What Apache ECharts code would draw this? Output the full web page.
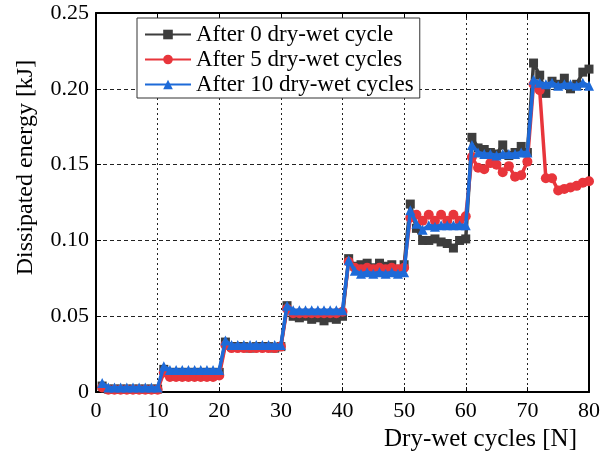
<!DOCTYPE html>
<html>
<head>
<meta charset="utf-8">
<script src="https://cdn.jsdelivr.net/npm/echarts@6/dist/echarts.min.js"></script>
<style>
  html, body { margin: 0; padding: 0; background: #fff; }
  #chart { width: 603px; height: 457px; }
</style>
</head>
<body>
<div id="chart"></div>
<script>
// Loading cycle number for each measurement
const cycles = [
  1, 2, 3, 4, 5, 6, 7, 8, 9, 10,
  11, 12, 13, 14, 15, 16, 17, 18, 19, 20,
  21, 22, 23, 24, 25, 26, 27, 28, 29, 30,
  31, 32, 33, 34, 35, 36, 37, 38, 39, 40,
  41, 42, 43, 44, 45, 46, 47, 48, 49, 50,
  51, 52, 53, 54, 55, 56, 57, 58, 59, 60,
  61, 62, 63, 64, 65, 66, 67, 68, 69, 70,
  71, 72, 73, 74, 75, 76, 77, 78, 79, 80
];

// Dissipated energy [kJ] per cycle
const after0 = [
  0.004, 0.002, 0.002, 0.002, 0.002, 0.002, 0.002, 0.002, 0.002, 0.002,
  0.015, 0.013, 0.013, 0.013, 0.013, 0.013, 0.013, 0.013, 0.013, 0.013,
  0.033, 0.030, 0.030, 0.030, 0.029, 0.030, 0.030, 0.030, 0.029, 0.030,
  0.057, 0.050, 0.049, 0.050, 0.048, 0.049, 0.047, 0.049, 0.048, 0.050,
  0.088, 0.083, 0.084, 0.085, 0.082, 0.085, 0.083, 0.084, 0.081, 0.084,
  0.124, 0.108, 0.100, 0.100, 0.101, 0.099, 0.098, 0.095, 0.100, 0.101,
  0.168, 0.161, 0.160, 0.158, 0.157, 0.163, 0.156, 0.158, 0.162, 0.158,
  0.217, 0.209, 0.197, 0.205, 0.203, 0.207, 0.200, 0.203, 0.211, 0.213
];
const after5 = [
  0.003, 0.0015, 0.0015, 0.0015, 0.0015, 0.0015, 0.0015, 0.0015, 0.0015, 0.0015,
  0.013, 0.010, 0.010, 0.010, 0.010, 0.010, 0.010, 0.010, 0.010, 0.011,
  0.031, 0.029, 0.029, 0.029, 0.029, 0.029, 0.029, 0.029, 0.029, 0.030,
  0.055, 0.052, 0.052, 0.052, 0.052, 0.052, 0.052, 0.052, 0.052, 0.053,
  0.086, 0.082, 0.081, 0.082, 0.081, 0.082, 0.081, 0.082, 0.081, 0.082,
  0.115, 0.117, 0.113, 0.117, 0.113, 0.117, 0.113, 0.117, 0.113, 0.116,
  0.155, 0.148, 0.147, 0.151, 0.150, 0.145, 0.149, 0.142, 0.143, 0.152,
  0.203, 0.199, 0.141, 0.141, 0.133, 0.134, 0.135, 0.136, 0.138, 0.139
];
const after10 = [
  0.006, 0.003, 0.003, 0.003, 0.003, 0.003, 0.003, 0.003, 0.003, 0.003,
  0.017, 0.0145, 0.0145, 0.0145, 0.0145, 0.0145, 0.0145, 0.0145, 0.0145, 0.0145,
  0.034, 0.031, 0.031, 0.031, 0.031, 0.031, 0.031, 0.031, 0.031, 0.031,
  0.057, 0.054, 0.054, 0.054, 0.054, 0.054, 0.054, 0.054, 0.054, 0.054,
  0.087, 0.080, 0.078, 0.079, 0.078, 0.079, 0.078, 0.079, 0.078, 0.079,
  0.120, 0.111, 0.107, 0.110, 0.109, 0.110, 0.110, 0.110, 0.110, 0.110,
  0.163, 0.158, 0.157, 0.157, 0.156, 0.157, 0.157, 0.157, 0.158, 0.158,
  0.206, 0.204, 0.203, 0.204, 0.202, 0.203, 0.203, 0.202, 0.204, 0.202
];

const seriesNames = ['After 0 dry-wet cycle', 'After 5 dry-wet cycles', 'After 10 dry-wet cycles'];
const xTicks = [0, 10, 20, 30, 40, 50, 60, 70, 80];
const yTicks = [0, 0.05, 0.10, 0.15, 0.20, 0.25];

const FONT = '"Liberation Serif", "DejaVu Serif", serif';
const INK = '#000';

function pairs(values) {
  return cycles.map((c, i) => [c, values[i]]);
}

const frameAxisX = {
  type: 'value', min: xTicks[0], max: xTicks[xTicks.length - 1], interval: 10
};
const frameAxisY = {
  type: 'value', min: yTicks[0], max: yTicks[yTicks.length - 1], interval: 0.05
};

const chart = echarts.init(document.getElementById('chart'), null, { renderer: 'canvas' });

chart.setOption({
  animation: false,
  backgroundColor: '#fff',
  grid: { left: 96, right: 11, top: 13, bottom: 60, containLabel: false },
  legend: {
    data: seriesNames,
    orient: 'vertical',
    left: 137,
    top: 18,
    padding: [5, 6, 2, 7],
    itemGap: 2,
    itemWidth: 46,
    itemHeight: 12,
    backgroundColor: '#fff',
    borderColor: '#333',
    borderWidth: 1,
    borderRadius: 0,
    textStyle: { fontFamily: FONT, fontSize: 23, color: INK, lineHeight: 22, padding: [0, 0, 0, 0] }
  },
  xAxis: [
    Object.assign({}, frameAxisX, {
      position: 'bottom',
      name: 'Dry-wet cycles [N]',
      nameLocation: 'middle',
      nameGap: 28,
      nameTextStyle: { fontFamily: FONT, fontSize: 25, color: INK, padding: [0, 0, 0, 276] },
      axisLine: { show: true, onZero: false, lineStyle: { color: INK, width: 2 } },
      axisTick: { show: true, inside: true, length: 5, lineStyle: { color: INK, width: 1 } },
      axisLabel: { fontFamily: FONT, fontSize: 22, color: INK, margin: 8 },
      splitLine: { show: true, lineStyle: { color: '#222', type: [2, 3], width: 1 } }
    }),
    Object.assign({}, frameAxisX, {
      position: 'top',
      axisLine: { show: true, onZero: false, lineStyle: { color: INK, width: 2 } },
      axisTick: { show: true, inside: true, length: 5, lineStyle: { color: INK, width: 1 } },
      axisLabel: { show: false },
      splitLine: { show: false }
    })
  ],
  yAxis: [
    Object.assign({}, frameAxisY, {
      position: 'left',
      name: 'Dissipated energy [kJ]',
      nameLocation: 'middle',
      nameGap: 58,
      // left padding lifts the rotated title above the axis centre
      nameTextStyle: { fontFamily: FONT, fontSize: 24, color: INK, padding: [0, 0, 0, 70] },
      axisLine: { show: true, onZero: false, lineStyle: { color: INK, width: 2 } },
      axisTick: { show: true, inside: true, length: 5, lineStyle: { color: INK, width: 1 } },
      axisLabel: {
        fontFamily: FONT, fontSize: 22, color: INK, margin: 7,
        formatter: v => (v === 0 ? '0' : v.toFixed(2))
      },
      splitLine: { show: true, lineStyle: { color: '#222', type: [4, 3], width: 1 } }
    }),
    Object.assign({}, frameAxisY, {
      position: 'right',
      axisLine: { show: true, onZero: false, lineStyle: { color: INK, width: 2 } },
      axisTick: { show: true, inside: true, length: 5, lineStyle: { color: INK, width: 1 } },
      axisLabel: { show: false },
      splitLine: { show: false }
    })
  ],
  series: [
    {
      name: seriesNames[0], type: 'line', data: pairs(after0),
      symbol: 'rect', symbolSize: 9, showAllSymbol: true,
      color: '#3d3d3d',
      lineStyle: { width: 3.5, color: '#3d3d3d' },
      itemStyle: { color: '#3d3d3d' },
      z: 2
    },
    {
      name: seriesNames[1], type: 'line', data: pairs(after5),
      symbol: 'circle', symbolSize: 10, showAllSymbol: true,
      color: '#e8353b',
      lineStyle: { width: 3.5, color: '#e8353b' },
      itemStyle: { color: '#e8353b' },
      z: 3
    },
    {
      name: seriesNames[2], type: 'line', data: pairs(after10),
      symbol: 'triangle', symbolSize: 10, showAllSymbol: true,
      color: '#1d6ad8',
      lineStyle: { width: 3.5, color: '#1d6ad8' },
      itemStyle: { color: '#1d6ad8' },
      z: 4
    }
  ]
});
</script>
</body>
</html>
